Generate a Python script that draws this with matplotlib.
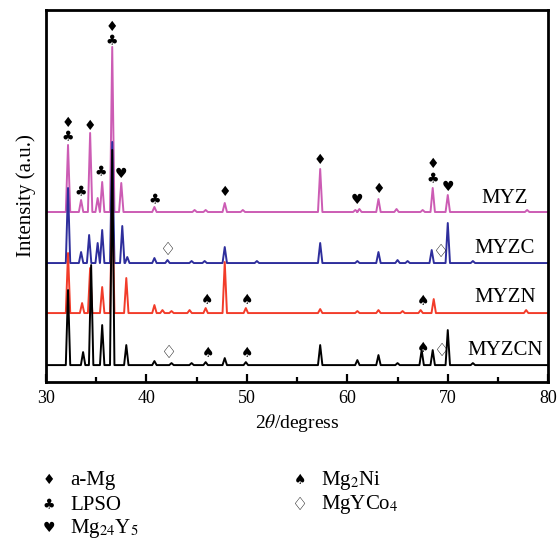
"""XRD patterns of MYZ, MYZC, MYZN and MYZCN alloys with phase markers."""

import matplotlib
matplotlib.use("Agg")
import matplotlib.pyplot as plt
from matplotlib.ticker import MultipleLocator

plt.rcParams["font.family"] = ["Liberation Serif", "DejaVu Sans"]
plt.rcParams["mathtext.fontset"] = "stix"

SYM_FONT = ["DejaVu Sans"]

# --- data: peak positions (2theta, deg) and heights above each baseline ---
samples = ["MYZ", "MYZC", "MYZN", "MYZCN"]
colors = ["#cc5cb4", "#2e2e9c", "#f23c2a", "#000000"]
baselines = [170, 119, 69, 17]

myz_pos = [32.2, 33.5, 34.4, 35.15, 35.6, 36.6, 37.5, 40.8, 44.8, 45.9, 47.8,
           49.6, 57.3, 60.8, 61.2, 63.1, 64.9, 67.5, 68.5, 70.0, 77.9]
myz_h = [67, 12, 79, 14, 30, 165, 29, 5, 2, 2, 9,
         2, 43, 2, 3, 13, 3, 2, 24, 17, 2]

myzc_pos = [32.2, 33.5, 34.3, 35.15, 35.6, 36.6, 37.6, 38.1, 40.8, 42.1, 44.5,
            45.8, 47.8, 51.0, 57.3, 61.0, 63.1, 65.0, 66.0, 68.4, 70.0, 72.5]
myzc_h = [75, 11, 28, 20, 33, 121, 37, 6, 5, 3, 2,
          2, 16, 2, 20, 2, 11, 3, 2, 13, 40, 2]

myzn_pos = [32.2, 33.6, 34.4, 35.6, 36.6, 38.0, 40.8, 41.6, 42.5, 44.3, 45.9,
            47.8, 49.9, 57.3, 61.0, 63.1, 65.5, 67.3, 68.6, 77.8]
myzn_h = [60, 10, 45, 26, 123, 35, 8, 3, 2, 3, 5,
          51, 5, 4, 2, 3, 2, 3, 14, 3]

myzcn_pos = [32.2, 33.7, 34.5, 35.6, 36.6, 38.0, 40.8, 42.5, 44.5, 45.9, 47.8,
             49.9, 57.3, 61.0, 63.1, 65.0, 67.4, 68.5, 70.0, 72.5]
myzcn_h = [75, 13, 100, 40, 215, 20, 4, 2, 2, 3, 7,
           3, 20, 5, 10, 2, 15, 15, 35, 2]

peak_pos = [myz_pos, myzc_pos, myzn_pos, myzcn_pos]
peak_h = [myz_h, myzc_h, myzn_h, myzcn_h]

# phase markers: (2theta, height on the plot, symbol)
marks = [
    (32.2, 259, "♦"), (32.2, 245, "♣"), (33.5, 190, "♣"), (34.4, 256, "♦"),
    (35.5, 210, "♣"), (36.6, 355, "♦"), (36.6, 341, "♣"), (37.5, 208, "♥"),
    (40.8, 182, "♣"), (47.8, 190, "♦"), (57.3, 222, "♦"), (61.0, 182, "♥"),
    (63.1, 193, "♦"), (68.5, 218, "♦"), (68.5, 203, "♣"), (70.0, 195, "♥"),
    (42.2, 132, "♢"), (69.3, 130, "♢"),
    (46.0, 82, "♠"), (50.0, 82, "♠"), (67.5, 81, "♠"),
    (42.3, 29, "♢"), (46.1, 29, "♠"), (50.0, 29, "♠"), (67.5, 34, "♠"),
    (69.4, 31, "♢"),
]

label_y = [183, 134, 85, 32]

legend_items = [
    ("♦", "a-Mg"), ("♣", "LPSO"), ("♥", r"Mg$_{24}$Y$_5$"),
    ("♠", r"Mg$_2$Ni"), ("♢", r"MgYCo$_4$"),
]


def trace(pos, h, base, hw=0.22):
    xs, ys = [30], [base]
    for p, hh in sorted(zip(pos, h)):
        xs += [p - hw, p, p + hw]
        ys += [base, base + hh, base]
    xs.append(80)
    ys.append(base)
    return xs, ys


def sym_size(s):
    return 13 if s == "♢" else 10


fig = plt.figure(figsize=(5.6, 5.49), dpi=100)
ax = fig.add_axes([0.082, 0.304, 0.897, 0.678])

for name, c, b, pos, h, ly in zip(samples, colors, baselines, peak_pos, peak_h, label_y):
    xs, ys = trace(pos, h, b)
    ax.plot(xs, ys, color=c, lw=1.4)
    ax.text(75.7, ly, name, ha="center", va="center", fontsize=15)

for x, y, s in marks:
    ax.text(x, y, s, ha="center", va="center", fontsize=sym_size(s), family=SYM_FONT)

ax.set_xlim(30, 80)
ax.set_ylim(0, 372)
ax.set_yticks([])
ax.xaxis.set_major_locator(MultipleLocator(10))
ax.xaxis.set_minor_locator(MultipleLocator(5))
ax.tick_params(axis="x", which="major", direction="in", length=6, width=1.6,
               labelsize=13, pad=6)
ax.tick_params(axis="x", which="minor", direction="in", length=3.5, width=1.6)
for sp in ax.spines.values():
    sp.set_linewidth(2)
ax.set_xlabel(r"2$\theta$/degress", fontsize=14, labelpad=3)
ax.set_ylabel("Intensity (a.u.)", fontsize=15, labelpad=7)

# legend block under the chart (figure pixel coordinates)
W, H = 560, 549
legend_xy = [(49, 480), (49, 505), (49, 528), (300, 480), (300, 505)]
for (sym, txt), (px, py) in zip(legend_items, legend_xy):
    fig.text(px / W, 1 - py / H, sym, ha="center", va="center",
             fontsize=sym_size(sym), family=SYM_FONT)
    fig.text((px + 21) / W, 1 - py / H, txt, ha="left", va="center", fontsize=15)

fig.savefig("out.png", dpi=100)
